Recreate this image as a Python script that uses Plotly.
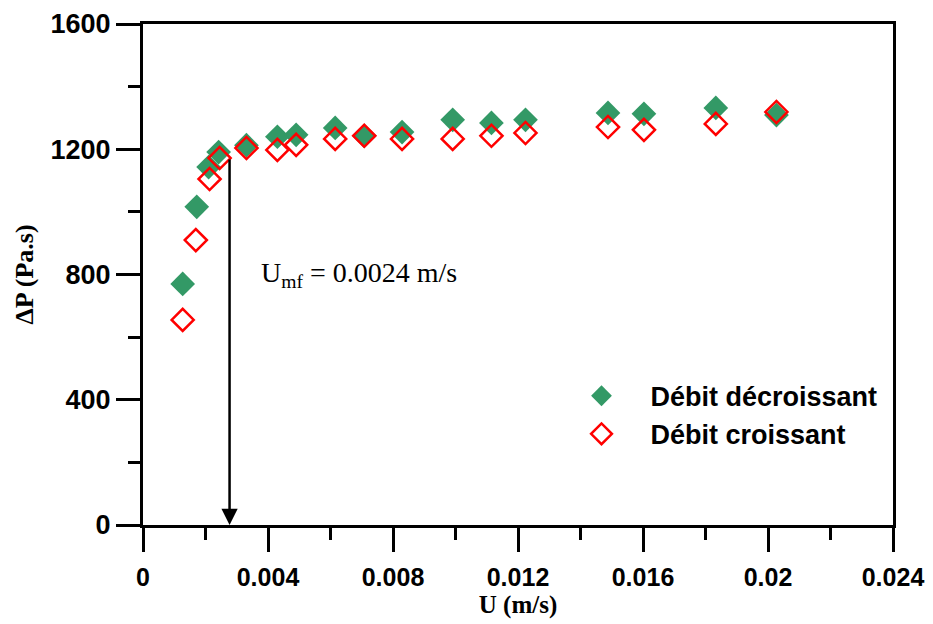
import plotly.graph_objects as go

# Data
u_dec = [0.00127, 0.00172, 0.00210, 0.00242, 0.00331, 0.00430, 0.00490, 0.00615,
         0.00708, 0.00829, 0.00991, 0.01115, 0.01224, 0.01488, 0.01603, 0.01833, 0.02027]
dp_dec = [770, 1016, 1143, 1191, 1213, 1240, 1246, 1268,
          1243, 1255, 1294, 1284, 1294, 1316, 1313, 1332, 1309]

u_cro = [0.00127, 0.00169, 0.00213, 0.00245, 0.00331, 0.00430, 0.00490, 0.00615,
         0.00708, 0.00829, 0.00991, 0.01115, 0.01224, 0.01488, 0.01603, 0.01833, 0.02027]
dp_cro = [655, 910, 1105, 1172, 1204, 1198, 1214, 1233,
          1243, 1233, 1233, 1243, 1252, 1271, 1262, 1281, 1319]

x_tickvals = [0, 0.004, 0.008, 0.012, 0.016, 0.02, 0.024]
x_ticktext = ["0", "0.004", "0.008", "0.012", "0.016", "0.02", "0.024"]
y_tickvals = [0, 400, 800, 1200, 1600]
y_ticktext = ["0", "400", "800", "1200", "1600"]

arrow_x = 0.00277
arrow_top = 1172
label_x = 0.0037
label_y = 800

GREEN = "#339966"
RED = "#ff0000"
SANS = "Arial, 'Liberation Sans', sans-serif"
SERIF = "'Times New Roman', 'Liberation Serif', serif"

fig = go.Figure()
fig.add_trace(go.Scatter(
    x=u_dec, y=dp_dec, mode="markers", name="Débit décroissant",
    marker=dict(symbol="diamond", size=19, color=GREEN, line=dict(width=0)),
))
fig.add_trace(go.Scatter(
    x=u_cro, y=dp_cro, mode="markers", name="Débit croissant",
    marker=dict(symbol="diamond-open", size=17, color=RED, line=dict(width=2.5, color=RED)),
))

fig.add_annotation(
    x=arrow_x, y=0, ax=arrow_x, ay=arrow_top, xref="x", yref="y", axref="x", ayref="y",
    text="", showarrow=True, arrowhead=2, arrowsize=1.3, arrowwidth=2.5, arrowcolor="black",
    standoff=0, startstandoff=0,
)
fig.add_annotation(
    x=label_x, y=label_y, xref="x", yref="y", xanchor="left", yanchor="middle",
    text="U<sub>mf</sub> = 0.0024 m/s", showarrow=False,
    font=dict(family=SERIF, size=28, color="black"),
)

axis_common = dict(
    showgrid=False, zeroline=False, showline=True, linewidth=3, linecolor="black",
    mirror=True, ticks="outside", ticklen=24, tickwidth=3, tickcolor="black",
    automargin=False,
)

fig.update_xaxes(
    **axis_common, range=[0, 0.024], tickmode="array",
    tickvals=x_tickvals, ticktext=x_ticktext, ticklabelstandoff=4,
    tickfont=dict(family=SANS, size=25, color="black", weight="bold"),
    minor=dict(dtick=0.002, ticks="outside", ticklen=12, tickwidth=3, tickcolor="black", showgrid=False),
    title=dict(text="U (m/s)", font=dict(family=SERIF, size=25, color="black", weight="bold"), standoff=5),
)
fig.update_yaxes(
    **axis_common, range=[0, 1600], tickmode="array",
    tickvals=y_tickvals, ticktext=y_ticktext,
    tickfont=dict(family=SANS, size=27, color="black", weight="bold"),
    minor=dict(dtick=200, ticks="outside", ticklen=12, tickwidth=3, tickcolor="black", showgrid=False),
    title=dict(text="ΔP (Pa.s)", font=dict(family=SERIF, size=26, color="black", weight="bold"), standoff=10),
)

# The page body adds an 8px offset, so the figure is sized 8px smaller on each side.
fig.update_layout(
    width=925, height=616,
    margin=dict(l=135, r=40, t=16, b=99),
    paper_bgcolor="white", plot_bgcolor="white",
    showlegend=True,
    legend=dict(
        x=0.546, y=0.306, xanchor="left", yanchor="top",
        bgcolor="rgba(0,0,0,0)", borderwidth=0, itemwidth=88,
        font=dict(family=SANS, size=27, color="black", weight="bold"),
    ),
)

fig.write_html("out.html")
